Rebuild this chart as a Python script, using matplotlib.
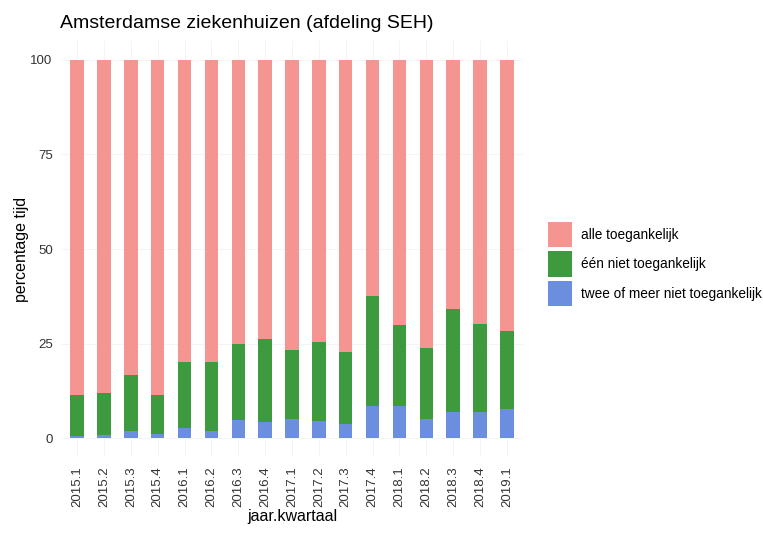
import numpy as np
import matplotlib.pyplot as plt
from matplotlib.patches import Patch

plt.rcParams['font.family'] = ['Liberation Sans', 'DejaVu Sans']

kwartalen = ['2015.1', '2015.2', '2015.3', '2015.4', '2016.1', '2016.2', '2016.3',
             '2016.4', '2017.1', '2017.2', '2017.3', '2017.4', '2018.1', '2018.2',
             '2018.3', '2018.4', '2019.1']
# percentage tijd dat twee of meer SEH's niet toegankelijk zijn
twee_of_meer = [0.5, 0.9, 2.0, 1.1, 2.8, 2.0, 4.8, 4.2, 5.0, 4.5, 3.7, 8.5, 8.4,
                5.1, 6.8, 7.0, 7.8]
# cumulatief (twee of meer + een niet toegankelijk)
cum_een = [11.3, 11.9, 16.7, 11.3, 20.0, 20.0, 24.8, 26.1, 23.4, 25.3, 22.7, 37.6,
           30.0, 23.7, 34.1, 30.3, 28.4]
een_niet = [c - t for c, t in zip(cum_een, twee_of_meer)]
alle = [100 - c for c in cum_een]

labels = ['alle toegankelijk', 'één niet toegankelijk', 'twee of meer niet toegankelijk']
kleuren = ['#F59591', '#3E9A3E', '#6B8FDE']

fig = plt.figure(figsize=(7.63, 5.37), dpi=100)
ax = fig.add_axes([61 / 763, 1 - 457 / 537, 462 / 763, 416 / 537])

x = np.arange(len(kwartalen))
w = 0.5
ax.bar(x, twee_of_meer, w, color=kleuren[2], zorder=2)
ax.bar(x, een_niet, w, bottom=twee_of_meer, color=kleuren[1], zorder=2)
ax.bar(x, alle, w, bottom=cum_een, color=kleuren[0], zorder=2)

ax.set_xlim(-0.6, len(kwartalen) - 0.4)
ax.set_ylim(-5, 105)
ax.set_yticks([0, 25, 50, 75, 100])
ax.set_xticks(x)
ax.set_xticklabels(kwartalen, rotation=90, fontsize=9.5, color='#333333')
ax.tick_params(axis='y', labelsize=9.5, labelcolor='#333333', pad=6)
ax.tick_params(axis='x', pad=7)
ax.tick_params(length=0)
for s in ax.spines.values():
    s.set_visible(False)
ax.grid(True, color='#F3F3F3', linewidth=0.6, zorder=0)
ax.set_axisbelow(True)

ax.set_xlabel('jaar.kwartaal', fontsize=11.5, labelpad=1)
ax.set_ylabel('percentage tijd', fontsize=11.5, labelpad=1)
fig.text(60 / 763, 1 - 23 / 537, 'Amsterdamse ziekenhuizen (afdeling SEH)',
         fontsize=14, va='center', ha='left')

handles = [Patch(facecolor=k, label=l) for k, l in zip(kleuren, labels)]
fig.legend(handles=handles, loc='center left', bbox_to_anchor=(548 / 763, 1 - 264 / 537),
           frameon=False, fontsize=9.8, handlelength=1.75, handleheight=2.5,
           handletextpad=0.7, labelspacing=0.3, borderpad=0, borderaxespad=0)

fig.savefig('out.png', dpi=100)
